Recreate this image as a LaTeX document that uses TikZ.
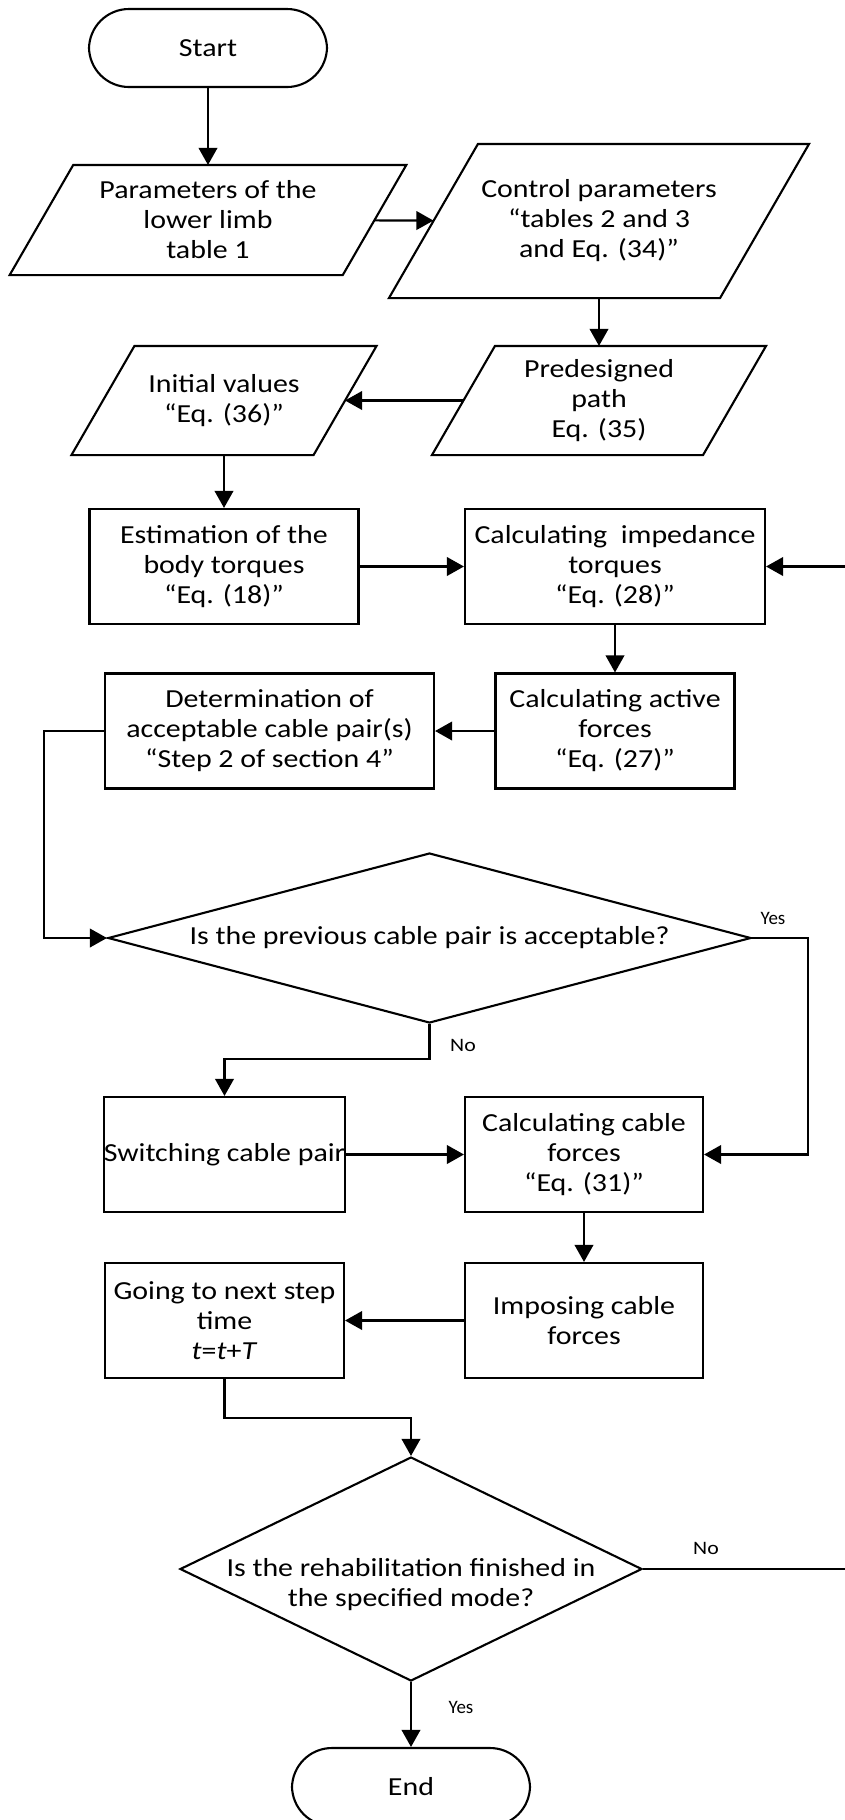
\documentclass[tikz,border=0pt]{standalone}
\usepackage{fontspec}
\setmainfont{Carlito}[FakeStretch=1.15]
\newfontfamily\narrowfont{Carlito}
\usetikzlibrary{arrows.meta,calc,shapes.geometric}
\newdimen\pxu
\pxu=0.02cm
\begin{document}
\begin{tikzpicture}[x=0.02cm,y=-0.02cm,line width=1.2pt,
  every node/.style={font=\fontsize{14.8pt}{17.1pt}\selectfont,align=center,inner sep=0pt},
  flow/.style={-{Triangle[length=0.34cm,width=0.37cm]}},
  term/.style={draw,rectangle,rounded corners=0.8cm,minimum width=238\pxu,minimum height=78\pxu},
  para/.style={rectangle,draw=none},
  box/.style={draw,rectangle,minimum height=115\pxu},
  decision/.style={draw,diamond},
  lbl/.style={font=\fontsize{10.8pt}{12pt}\selectfont},
  yeslbl/.style={font=\narrowfont\fontsize{10.8pt}{12pt}\selectfont}]
\useasboundingbox (0,0) rectangle (845,1820);
\fill[white] (0,0) rectangle (845,1820);
\clip (0,0) rectangle (845,1820);

% terminals, inputs and process steps
\node[term] (start) at (208,48) {Start};
\node[para,minimum width=331\pxu,minimum height=108\pxu] (p1) at (208,220)
  {Parameters of the\\lower limb\\table 1};
\node[para,minimum width=329\pxu,minimum height=152\pxu] (p2) at (599,221)
  {Control parameters\\“tables 2 and 3\\and Eq. (34)”};
\node[para,minimum width=269\pxu,minimum height=107\pxu] (p3) at (599,400.5)
  {Predesigned\\path\\Eq. (35)};
\node[para,minimum width=240\pxu,minimum height=107\pxu] (p4) at (224,400.5)
  {Initial values\\“Eq. (36)”};
\node[box,minimum width=269\pxu] (est) at (224,566.5)
  {Estimation of the\\body torques\\“Eq. (18)”};
\node[box,minimum width=300\pxu] (imp) at (615,566.5)
  {Calculating\ \ impedance\\torques\\“Eq. (28)”};
\node[box,minimum width=239\pxu] (act) at (615,731)
  {Calculating active\\forces\\“Eq. (27)”};
\node[box,minimum width=329\pxu] (det) at (269.5,731)
  {Determination of\\acceptable cable pair(s)\\“Step 2 of section 4”};
\node[decision,minimum width=643\pxu,minimum height=170\pxu] (d1) at (429.5,938) {};
\node (d1txt) at (d1) {Is the previous cable pair is acceptable?};
\node[box,minimum width=239\pxu] (sw) at (224.5,1154.5) {Switching cable pair};
\node[box,minimum width=238\pxu] (cab) at (584,1154.5)
  {Calculating cable\\forces\\“Eq. (31)”};
\node[box,minimum width=238\pxu] (imps) at (584,1320.5) {Imposing cable\\forces};
\node[box,minimum width=239\pxu] (go) at (224.5,1320.5)
  {Going to next step\\time\\\textit{t}=\textit{t}+\textit{T}};
\node[decision,minimum width=462\pxu,minimum height=224\pxu] (d2) at (411,1569) {};
\node (d2txt) at (411,1585) {Is the rehabilitation finished in\\the specified mode?};
\node[term] (end) at (411,1787) {End};

% parallelogram outlines around the input nodes (60 degree sides)
\foreach \nm in {p1,p2,p3,p4}
  \draw let \p1=(\nm.north west), \p2=(\nm.south east), \n1={0.2887*(\y1-\y2)} in
    (\x1+\n1,\y1) -- (\x2+\n1,\y1) -- (\x2-\n1,\y2) -- (\x1-\n1,\y2) -- cycle;

% branch labels
\node[yeslbl] (yes1) at (773,918) {Yes};
\node[lbl] (no1) at (463,1045) {No};
\node[lbl] (no2) at (706,1548) {No};
\node[yeslbl] (yes2) at (461,1707) {Yes};

% connectors
\draw[flow] (start) -- (p1);
\draw[flow] (p1) -- (p2);
\draw[flow] (p2) -- (p3);
\draw[flow] (p3) -- (p4);
\draw[flow] (p4) -- (est);
\draw[flow] (est) -- (imp);
\draw[flow] (imp) -- (act);
\draw[flow] (act) -- (det);
\draw[flow] (det.west) -- ++(-60,0) |- (d1.west);
\draw[flow] (d1.east) -- ++(56,0) |- (cab.east);
\draw[flow] (d1.south) -- ++(0,35) -| (sw.north);
\draw[flow] (sw) -- (cab);
\draw[flow] (cab) -- (imps);
\draw[flow] (imps) -- (go);
\draw[flow] (go.south) -- ++(0,39) -| (d2.north);
\draw[flow] (d2.south) -- (end.north);
\draw[flow] (d2.east) -- ++(260,0) |- (imp.east);
\end{tikzpicture}
\end{document}
